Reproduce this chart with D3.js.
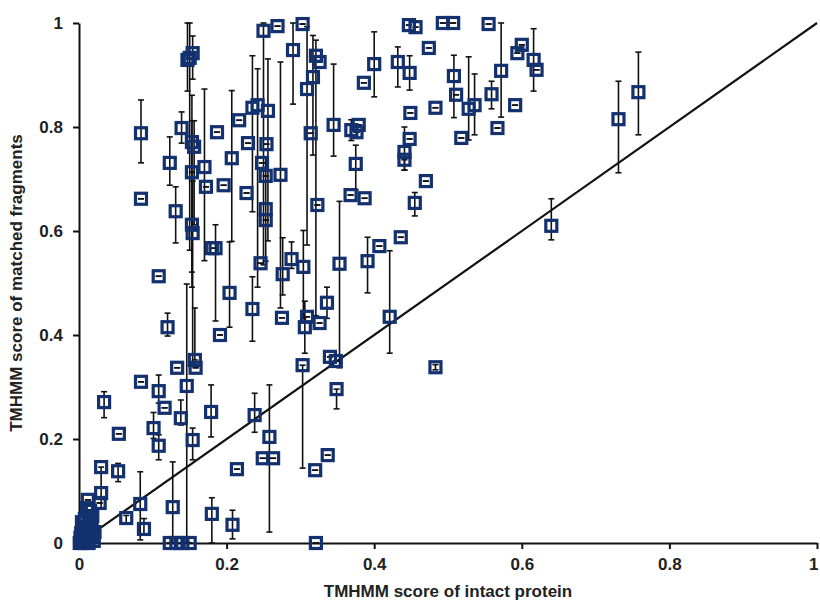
<!DOCTYPE html>
<meta charset="utf-8">
<style>
body { margin: 0; background: #fff; }
text { font-family: Arial, "Liberation Sans", sans-serif; font-weight: bold; fill: #222; }
</style>
<body>
<script src="https://cdn.jsdelivr.net/npm/d3@7/dist/d3.min.js"></script>
<script>

// rows: [intact score, fragment score, error minus, error plus]
var originCluster = [
  [0.001,0.000,0,0],[0.004,0.005,0,0],[0.007,0.011,0,0],[0.003,0.019,0,0],[0.009,0.016,0,0],
  [0.011,0.025,0,0],[0.005,0.031,0,0],[0.013,0.035,0,0],[0.015,0.043,0,0],[0.008,0.046,0,0],
  [0.017,0.028,0,0],[0.019,0.012,0,0],[0.021,0.021,0,0],[0.013,0.000,0,0],[0.006,0.000,0,0],
  [0.018,0.052,0.01,0.01],[0.015,0.062,0,0],[0.012,0.083,0,0],[0.011,0.067,0.01,0.01],[0.020,0.004,0,0],
  [0.002,0.010,0,0],[0.010,0.006,0,0],[0.016,0.018,0,0],[0.004,0.040,0,0]
];

var lowPoints = [
  [0.030,0.146,0.04,0],[0.030,0.096,0.03,0.01],[0.028,0.077,0,0],[0.053,0.138,0.02,0.015],
  [0.054,0.210,0,0],[0.034,0.271,0.03,0.02],[0.064,0.048,0.01,0.005],[0.083,0.075,0.069,0.062],
  [0.088,0.027,0.01,0.02],[0.084,0.310,0,0],[0.084,0.662,0,0],[0.084,0.788,0.057,0.064],
  [0.101,0.221,0.02,0.03],[0.108,0.187,0.027,0.021],[0.108,0.292,0.023,0.031],[0.108,0.513,0,0],
  [0.116,0.260,0,0],[0.120,0.415,0.017,0.027],[0.123,0.731,0.043,0.05],[0.127,0.069,0.069,0.087],
  [0.133,0.337,0,0],[0.131,0.638,0.061,0.047],[0.138,0.240,0.013,0.035],[0.139,0.798,0.029,0.031],
  [0.123,0,0,0],[0.132,0,0,0],[0.140,0,0,0],[0.150,0,0,0],
  [0.146,0.302,0.30,0.196],[0.153,0.612,0.12,0.2],[0.154,0.596,0.25,0.1],
  [0.157,0.352,0,0.1],[0.158,0.337,0,0],[0.154,0.198,0.038,0.023],
  [0.147,0.929,0.06,0.071],[0.150,0.933,0.37,0.067],[0.154,0.942,0.05,0.033],
  [0.153,0.771,0.25,0.09],[0.156,0.762,0.15,0.05],[0.153,0.713,0,0],[0.170,0.723,0.18,0.15],
  [0.172,0.685,0,0],[0.180,0.567,0,0],[0.185,0.567,0.14,0.045],[0.179,0.252,0.048,0.052],
  [0.180,0.056,0.056,0.031],[0.187,0.790,0,0],[0.191,0.400,0,0],[0.196,0.688,0,0]
];

var midPoints = [
  [0.204,0.481,0.066,0.098],[0.207,0.740,0.16,0.13],[0.208,0.035,0.027,0.028],[0.214,0.142,0,0],
  [0.217,0.813,0,0],[0.227,0.673,0,0],[0.229,0.769,0,0],[0.235,0.837,0.2,0.1],
  [0.235,0.450,0.062,0.062],[0.238,0.246,0.033,0.042],[0.242,0.842,0.35,0.07],[0.246,0.538,0,0],
  [0.248,0.731,0,0],[0.249,0.163,0,0],[0.263,0.163,0,0],[0.250,0.985,0.45,0.015],
  [0.253,0.706,0,0],[0.253,0.642,0.1,0.1],[0.253,0.621,0,0],[0.254,0.767,0,0],
  [0.256,0.831,0.25,0.1],[0.258,0.204,0.183,0.1],[0.269,0.994,0,0],[0.273,0.708,0.256,0.217],
  [0.275,0.433,0,0],[0.276,0.517,0.04,0.07],[0.288,0.546,0.018,0.033],[0.290,0.948,0.104,0.052],
  [0.303,0.998,0,0],[0.304,0.531,0.1,0.07],[0.303,0.342,0.198,0],[0.306,0.415,0.05,0.05],
  [0.309,0.435,0,0],[0.309,0.873,0.3,0.12],[0.314,0.788,0,0],[0.317,0.896,0.15,0.08],
  [0.321,0.937,0.5,0.03],[0.326,0.925,0,0],[0.323,0.650,0,0],[0.326,0.423,0,0],
  [0.336,0.462,0.03,0.03],[0.340,0.358,0,0],[0.348,0.350,0,0],[0.349,0.296,0.038,0],
  [0.345,0.804,0.06,0.117],[0.320,0.140,0,0],[0.337,0.169,0,0],[0.321,0.000,0,0],
  [0.353,0.537,0.2,0.12]
];

var highPoints = [
  [0.368,0.669,0,0],[0.375,0.729,0.05,0.036],[0.369,0.794,0.02,0.02],[0.379,0.804,0,0],
  [0.376,0.790,0,0],[0.386,0.885,0,0],[0.387,0.663,0,0],[0.391,0.542,0.061,0.046],
  [0.400,0.921,0.063,0.062],[0.407,0.571,0,0],[0.421,0.435,0.07,0.127],[0.432,0.925,0.048,0.029],
  [0.436,0.588,0,0],[0.441,0.752,0.035,0.048],[0.441,0.737,0.02,0],[0.447,0.996,0,0],
  [0.456,0.992,0,0],[0.448,0.904,0.033,0.033],[0.448,0.777,0,0],[0.449,0.827,0,0],
  [0.455,0.654,0.025,0.02],[0.470,0.696,0,0],[0.474,0.952,0,0],[0.483,0.837,0,0],
  [0.483,0.338,0.005,0.005],[0.493,1.000,0,0],[0.507,1.000,0,0],[0.508,0.898,0.08,0.04],
  [0.511,0.862,0,0],[0.528,0.835,0.06,0.1],[0.536,0.842,0.057,0.06],[0.518,0.779,0,0],
  [0.555,0.998,0,0],[0.559,0.863,0.028,0.025],[0.572,0.908,0.089,0.092],[0.567,0.798,0,0],
  [0.591,0.842,0,0],[0.594,0.942,0,0],[0.600,0.958,0,0],[0.616,0.929,0.06,0.06],
  [0.620,0.910,0,0],[0.640,0.610,0.027,0.052],[0.731,0.815,0.103,0.073],[0.758,0.867,0.082,0.077]
];

var tickValues = [0, 0.2, 0.4, 0.6, 0.8, 1];
var tickLabels = ["0", "0.2", "0.4", "0.6", "0.8", "1"];
var diagonal = [[0.02, 0.02], [1, 1]];

var points = originCluster.concat(lowPoints, midPoints, highPoints);

var width = 820, height = 602;

var x = d3.scaleLinear().domain([0, 1]).range([79, 817]);
var y = d3.scaleLinear().domain([0, 1]).range([543, 23]);

var svg = d3.select("body").append("svg")
    .attr("width", width)
    .attr("height", height);

// axes
var xAxis = d3.axisBottom(x).tickValues(tickValues).tickFormat(function(d, i) { return tickLabels[i]; })
    .tickSizeInner(6).tickSizeOuter(0).tickPadding(9);
var yAxis = d3.axisLeft(y).tickValues(tickValues).tickFormat(function(d, i) { return tickLabels[i]; })
    .tickSizeInner(6).tickSizeOuter(0).tickPadding(10);

var gx = svg.append("g").attr("transform", "translate(0," + y(0) + ")").call(xAxis);
var gy = svg.append("g").attr("transform", "translate(" + x(0) + ",0)").call(yAxis);

[gx, gy].forEach(function(g) {
  g.selectAll("path, line").attr("stroke", "#111").attr("stroke-width", 2);
  g.selectAll("text").attr("font-size", 17).attr("fill", "#222");
});
// keep the last x label inside the frame
gx.selectAll(".tick:last-of-type text").attr("text-anchor", "end").attr("dx", 1);

// diagonal y = x
svg.append("path")
    .datum(diagonal)
    .attr("d", d3.line().x(function(d) { return x(d[0]); }).y(function(d) { return y(d[1]); }))
    .attr("stroke", "#111")
    .attr("stroke-width", 2.2)
    .attr("fill", "none");

// error bars
var clamp = function(v) { return Math.max(0, Math.min(1, v)); };
var err = svg.append("g").attr("stroke", "#111").attr("stroke-width", 1.6);

err.selectAll("line.bar").data(points).enter().append("line")
    .attr("x1", function(d) { return x(d[0]); })
    .attr("x2", function(d) { return x(d[0]); })
    .attr("y1", function(d) { return y(clamp(d[1] - d[2])); })
    .attr("y2", function(d) { return y(clamp(d[1] + d[3])); });

err.selectAll("line.capHi").data(points).enter().append("line")
    .attr("x1", function(d) { return x(d[0]) - 3; })
    .attr("x2", function(d) { return x(d[0]) + 3; })
    .attr("y1", function(d) { return y(clamp(d[1] + d[3])); })
    .attr("y2", function(d) { return y(clamp(d[1] + d[3])); });

err.selectAll("line.capLo").data(points).enter().append("line")
    .attr("x1", function(d) { return x(d[0]) - 3; })
    .attr("x2", function(d) { return x(d[0]) + 3; })
    .attr("y1", function(d) { return y(clamp(d[1] - d[2])); })
    .attr("y2", function(d) { return y(clamp(d[1] - d[2])); });

// square markers
svg.append("g").selectAll("rect").data(points).enter().append("rect")
    .attr("x", function(d) { return x(d[0]) - 5.5; })
    .attr("y", function(d) { return y(d[1]) - 5.5; })
    .attr("width", 11)
    .attr("height", 11)
    .attr("fill", "none")
    .attr("stroke", "#13306f")
    .attr("stroke-width", 3.2);

// axis titles
svg.append("text")
    .attr("x", 448)
    .attr("y", 597)
    .attr("text-anchor", "middle")
    .attr("font-size", 17)
    .text("TMHMM score of intact protein");

svg.append("text")
    .attr("transform", "translate(22,283) rotate(-90)")
    .attr("text-anchor", "middle")
    .attr("font-size", 17)
    .text("TMHMM score of matched fragments");

</script>
</body>
